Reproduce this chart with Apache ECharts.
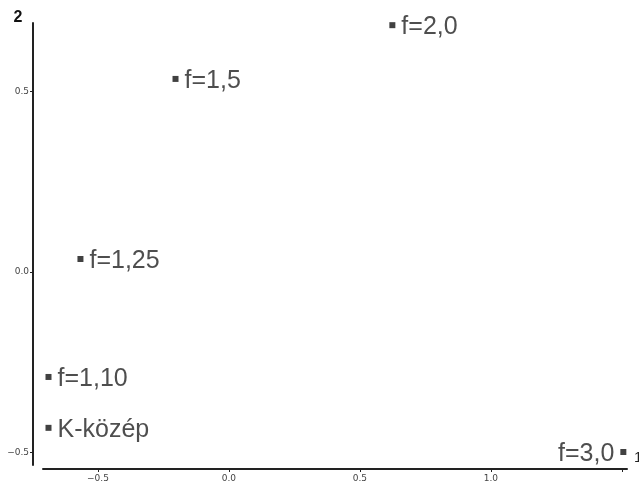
<!DOCTYPE html>
<html>
<head>
<meta charset="utf-8">
<script src="https://cdn.jsdelivr.net/npm/echarts@6/dist/echarts.min.js"></script>
<style>
  html, body { margin: 0; padding: 0; background: #fff; }
  #chart { width: 639px; height: 487px; }
</style>
</head>
<body>
<div id="chart"></div>
<script>
// Point labels and their coordinates on dimensions 1 and 2
const names = ['f=2,0', 'f=1,5', 'f=1,25', 'f=1,10', 'K-közép', 'f=3,0'];
const dim1 = [0.624, -0.204, -0.567, -0.689, -0.689, 1.506];
const dim2 = [0.684, 0.535, 0.036, -0.291, -0.432, -0.499];

// Tick positions and the subset that carries labels
const xTicks = [-0.5, 0.0, 0.5, 1.0, 1.5];
const xTickLabels = [-0.5, 0.0, 0.5, 1.0];
const yTicks = [-0.5, 0.0, 0.5];

const fmt = v => (v < 0 ? '\u2212' : '') + Math.abs(v).toFixed(1);

const points = names.map((n, i) => ({
  value: [dim1[i], dim2[i]],
  name: n,
  label: { position: dim1[i] > 1.4 ? 'left' : 'right' }
}));

const chart = echarts.init(document.getElementById('chart'), null, { renderer: 'canvas' });
chart.setOption({
  animation: false,
  backgroundColor: '#ffffff',
  grid: { left: 43, right: 12, top: 23, bottom: 22, containLabel: false, outerBoundsMode: 'none' },
  xAxis: {
    type: 'value',
    min: -0.71,
    max: 1.52,
    offset: 4,
    name: '1',
    nameLocation: 'end',
    nameGap: 7,
    nameTextStyle: {
      color: '#222', fontSize: 15, fontFamily: 'Liberation Sans',
      verticalAlign: 'bottom', padding: [0, 0, 4, 0]
    },
    splitLine: { show: false },
    axisLine: { show: true, onZero: false, lineStyle: { color: '#222', width: 2 } },
    axisTick: { show: true, customValues: xTicks, length: 3, lineStyle: { color: '#222' } },
    axisLabel: {
      customValues: xTickLabels,
      formatter: fmt,
      color: '#444',
      fontSize: 9,
      fontFamily: 'DejaVu Sans',
      margin: 5
    }
  },
  yAxis: {
    type: 'value',
    min: -0.535,
    max: 0.69,
    offset: 10,
    name: '2',
    nameLocation: 'end',
    nameGap: -3,
    nameTextStyle: { color: '#111', fontSize: 16, fontFamily: 'Liberation Sans', fontWeight: 'bold', padding: [0, 30, 0, 0] },
    splitLine: { show: false },
    axisLine: { show: true, onZero: false, lineStyle: { color: '#222', width: 2 } },
    axisTick: { show: true, customValues: yTicks, length: 3, lineStyle: { color: '#222' } },
    axisLabel: {
      customValues: yTicks,
      formatter: fmt,
      color: '#444',
      fontSize: 9,
      fontFamily: 'DejaVu Sans',
      margin: 4
    }
  },
  series: [{
    type: 'scatter',
    symbol: 'rect',
    symbolSize: 6,
    itemStyle: { color: '#111' },
    data: points,
    label: {
      show: true,
      formatter: p => p.name,
      color: '#222',
      fontSize: 25,
      fontFamily: 'Liberation Sans',
      distance: 6,
      offset: [0, 2]
    }
  }]
});
</script>
</body>
</html>
